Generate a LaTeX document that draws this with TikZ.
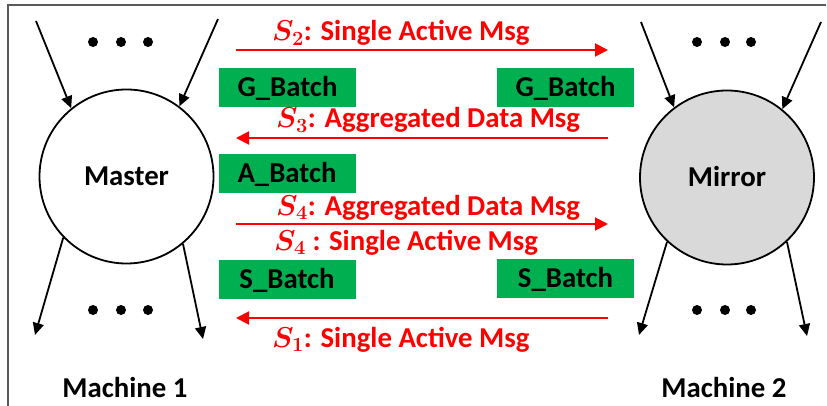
\RequirePackage{fix-cm}
\documentclass[tikz,border=0pt]{standalone}
\usepackage{fontspec}
\setmainfont{Carlito}
\usetikzlibrary{arrows.meta}
\definecolor{batchgreen}{HTML}{00B050}
\definecolor{msgred}{HTML}{FF0000}
\definecolor{mirrorgray}{HTML}{D9D9D9}
\definecolor{framegray}{HTML}{5A5A5A}
\newcommand{\msgS}[1]{{\boldmath$S_{#1}$}}
\begin{document}
\begin{tikzpicture}[x=1pt,y=-1pt,
  every node/.style={font=\fontsize{28.8}{32}\selectfont\bfseries},
  machine/.style={circle,draw=black,line width=1.8pt,minimum size=174pt,inner sep=0pt,
    text height=18pt,text depth=0pt},
  batch/.style={fill=batchgreen,minimum width=137pt,minimum height=39pt,inner sep=0pt,
    text height=18pt,text depth=0pt},
  flow/.style={draw=black,line width=1.8pt,-{Triangle[length=12pt,width=11pt]}},
  msg/.style={draw=msgred,line width=2pt,-{Triangle[length=13pt,width=13pt]}},
  msglabel/.style={text=msgred,anchor=base west,inner sep=0pt},
  dot/.style={fill=black,circle,minimum size=10pt,inner sep=0pt},
  caption/.style={anchor=base,inner sep=0pt}]
\useasboundingbox (0,0) rectangle (827,406);

% frame
\draw[framegray,line width=1.5pt] (8,410) -- (8,5) -- (826,5);

% the two machines
\node[machine] (master) at (126.5,176.5) {Master};
\node[machine,fill=mirrorgray] (mirror) at (727,177.5) {Mirror};

% incoming and outgoing edges of Master
\coordinate (mInA) at (36,21);
\coordinate (mInB) at (218,19);
\coordinate (mOutA) at (35,335);
\coordinate (mOutB) at (203,339);
\draw[flow] (mInA) -- (master.129);
\draw[flow] (mInB) -- (master.53);
\draw[flow] (master.-136) -- (mOutA);
\draw[flow] (master.-50) -- (mOutB);

% incoming and outgoing edges of Mirror
\coordinate (rInA) at (641,22);
\coordinate (rInB) at (821,22);
\coordinate (rOutA) at (639,335);
\coordinate (rOutB) at (807,336);
\draw[flow] (rInA) -- (mirror.127);
\draw[flow] (rInB) -- (mirror.51.5);
\draw[flow] (mirror.-133.5) -- (rOutA);
\draw[flow] (mirror.-47.5) -- (rOutB);

% ellipsis dots
\foreach \x [count=\i] in {93,121,148}{
  \node[dot] (mtd\i) at (\x,42) {};
  \node[dot] (mbd\i) at (\x,310) {};
}
\foreach \x [count=\i] in {697,725,751}{
  \node[dot] (rtd\i) at (\x,42) {};
  \node[dot] (rbd\i) at (\x,310) {};
}

% batches
\node[batch] (gbl) at (287.5,87.5) {G\_Batch};
\node[batch] (gbr) at (565.5,87.5) {G\_Batch};
\node[batch] (abl) at (287,173.5) {A\_Batch};
\node[batch] (sbl) at (287,279.5) {S\_Batch};
\node[batch] (sbr) at (565.5,278.5) {S\_Batch};

% message channels
\coordinate (lS2) at (236,50);   \coordinate (rS2) at (608,50);
\coordinate (lS3) at (236,138);  \coordinate (rS3) at (608,138);
\coordinate (lS4) at (236,224);  \coordinate (rS4) at (608,224);
\coordinate (lS1) at (236,318);  \coordinate (rS1) at (608,318);
\draw[msg] (lS2) -- (rS2);
\draw[msg] (rS3) -- (lS3);
\draw[msg] (lS4) -- (rS4);
\draw[msg] (rS1) -- (lS1);

\node[msglabel] (tS2) at (272,41) {\msgS{2}: Single Active Msg};
\node[msglabel] (tS3) at (276,128) {\msgS{3}: Aggregated Data Msg};
\node[msglabel] (tS4a) at (276,215) {\msgS{4}: Aggregated Data Msg};
\node[msglabel] (tS4b) at (274,250) {\msgS{4} : Single Active Msg};
\node[msglabel] (tS1) at (272,347) {\msgS{1}: Single Active Msg};

% machine captions
\node[caption] (m1) at (125,397) {Machine 1};
\node[caption] (m2) at (724,397) {Machine 2};
\end{tikzpicture}
\end{document}
